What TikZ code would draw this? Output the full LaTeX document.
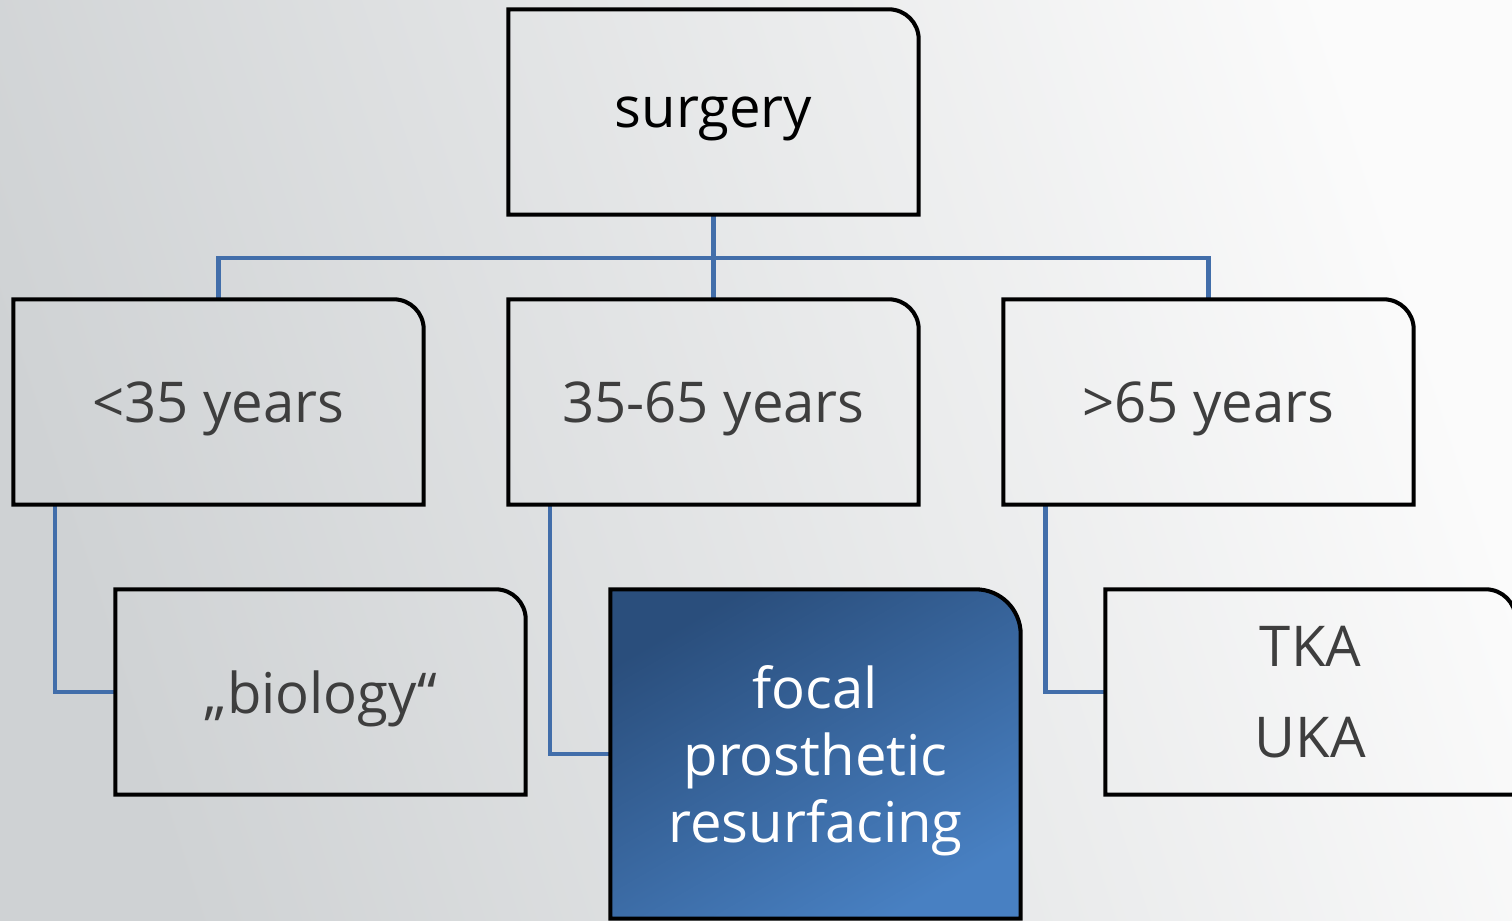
\documentclass[tikz,border=0pt]{standalone}
\usepackage{fontspec}
\setmainfont{Open Sans}
\usetikzlibrary{backgrounds}

\definecolor{linkblue}{RGB}{66,110,170}
\definecolor{textgray}{RGB}{62,62,62}
\definecolor{bluedark}{RGB}{42,78,124}
\definecolor{bluelight}{RGB}{72,128,194}
\definecolor{pagedark}{RGB}{207,210,212}
\definecolor{pagelight}{RGB}{251,251,251}

\tikzset{
  agebox/.style={minimum width=40.9mm, minimum height=20.4mm, inner sep=0pt,
    align=center, text=textgray, font=\fontsize{16}{19}\selectfont},
  onerow/.style={agebox, text depth=0pt},
  focusbox/.style={agebox, minimum height=32.8mm, text=white, text depth=0pt},
  boxline/.style={draw=black, line width=1.15pt}
}

\begin{document}
\begin{tikzpicture}[
  edge from parent/.style={draw=linkblue, line width=1.25pt},
  level 1/.style={sibling distance=49.5mm, level distance=29mm,
    edge from parent path={(\tikzparentnode.south) -- ++(0,-4.3mm) -| (\tikzchildnode.north)}},
  level 2/.style={level distance=29mm,
    edge from parent path={([xshift=4.2mm]\tikzparentnode.south west) |- (\tikzchildnode.west)}}]
\useasboundingbox (0,0) rectangle (151.2mm,-92mm);
\node [onerow, text=black] (surgery) at (71.35mm,-11.2mm) {surgery}
    child {node [onerow] (young) {<35 years}
      child {node [onerow, xshift=10.2mm] (biology) {„biology“}}
    }
    child {node [onerow] (middle) {35-65 years}
      child {node [focusbox, xshift=10.2mm, yshift=-6.2mm] (focal) {focal\\prosthetic\\resurfacing}}
    }
    child {node [onerow] (old) {>65 years}
      child {node [agebox, xshift=10.2mm] (tka) {TKA\\[2.5mm]UKA}}
    }
;
% box outlines, only the top right corner is round
\foreach \n in {surgery,young,middle,old,biology,tka}
  \draw [boxline] (\n.south west) -- (\n.north west) [rounded corners=3mm] -- (\n.north east) [sharp corners] -- (\n.south east) -- cycle;
\draw [boxline] (focal.south west) -- (focal.north west) [rounded corners=4.5mm] -- (focal.north east) [sharp corners] -- (focal.south east) -- cycle;
\begin{pgfonlayer}{background}
  \shade [top color=pagelight, bottom color=pagedark, shading angle=-72] (0,0) rectangle (151.2mm,-92mm);
  \shade [top color=bluedark, bottom color=bluelight, shading angle=30]
    (focal.south west) -- (focal.north west) [rounded corners=4.5mm] -- (focal.north east) [sharp corners] -- (focal.south east) -- cycle;
\end{pgfonlayer}
\end{tikzpicture}
\end{document}
